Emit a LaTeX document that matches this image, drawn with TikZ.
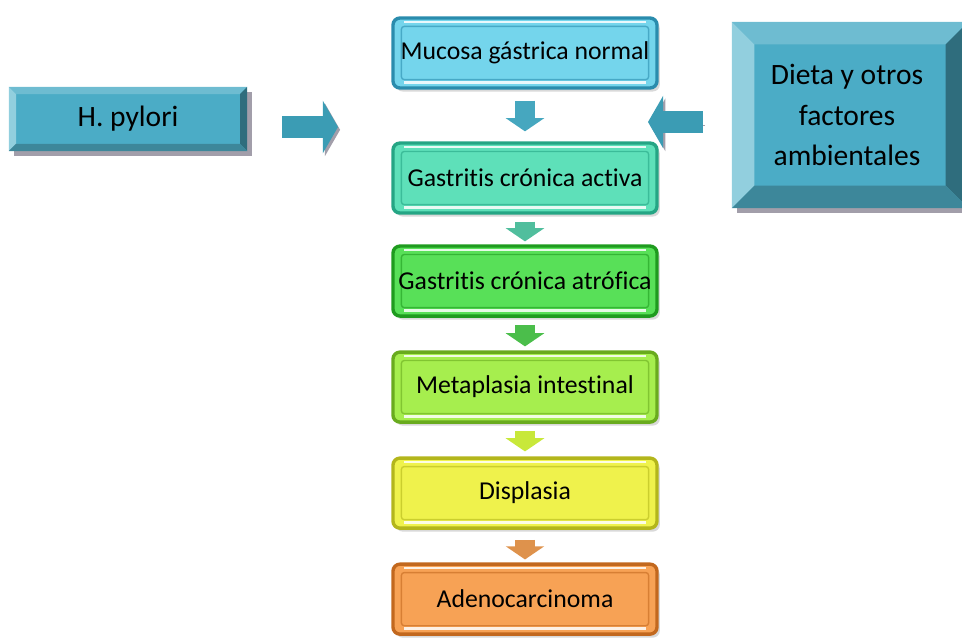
\documentclass[tikz,border=0pt]{standalone}
\usepackage{fontspec}
\setmainfont{Carlito}[Ligatures=NoCommon]
\usepackage{xcolor}
\usepackage{tikz}
\usetikzlibrary{arrows.meta, shadows}

\definecolor{aqua}{HTML}{4BACC6}
\definecolor{aquatop}{HTML}{6EBCD1}
\definecolor{aqualeft}{HTML}{92CFDE}
\definecolor{aquaright}{HTML}{2F6D7D}
\definecolor{aquabot}{HTML}{3D879A}
\definecolor{shadowgray}{HTML}{A29EAA}
\definecolor{arrowteal}{HTML}{3B9CB4}
\definecolor{cyanin}{HTML}{74D5EC}   \definecolor{cyanout}{HTML}{2A8CAD}
\definecolor{mintin}{HTML}{5EE0B9}   \definecolor{mintout}{HTML}{25A584}
\definecolor{greenin}{HTML}{58E058}  \definecolor{greenout}{HTML}{1F9B1F}
\definecolor{limein}{HTML}{A6EE4E}   \definecolor{limeout}{HTML}{69AB1E}
\definecolor{yellin}{HTML}{EFF24C}   \definecolor{yellout}{HTML}{B3B61B}
\definecolor{orangein}{HTML}{F7A255} \definecolor{orangeout}{HTML}{C2681E}
\definecolor{limearrow}{HTML}{C8E83A}

\tikzstyle{sidebox} = [fill=aqua, align=center, inner sep=0pt,
    font=\fontsize{21}{29}\selectfont,
    drop shadow={shadow xshift=3.5pt, shadow yshift=-3.5pt, fill=shadowgray, opacity=1},
    path picture={
      \path (path picture bounding box.south west) coordinate (bsw)
            (path picture bounding box.north east) coordinate (bne)
            (bsw|-bne) coordinate (bnw) (bne|-bsw) coordinate (bse);
      \fill[aquatop] (bnw) -- (bne) -- ([xshift=-\bevd,yshift=-\bevd]bne) -- ([xshift=\bevd,yshift=-\bevd]bnw) -- cycle;
      \fill[aqualeft] (bnw) -- (bsw) -- ([xshift=\bevd,yshift=\bevd]bsw) -- ([xshift=\bevd,yshift=-\bevd]bnw) -- cycle;
      \fill[aquaright] (bne) -- (bse) -- ([xshift=-\bevd,yshift=\bevd]bse) -- ([xshift=-\bevd,yshift=-\bevd]bne) -- cycle;
      \fill[aquabot] (bsw) -- (bse) -- ([xshift=-\bevd,yshift=\bevd]bse) -- ([xshift=\bevd,yshift=\bevd]bsw) -- cycle;
    }]
\tikzset{bevel depth/.store in=\bevd, bevel depth=5pt}
\tikzset{stage/.style 2 args={rounded corners=5pt, fill=#1, draw=#2, line width=2.4pt,
    minimum width=6.6cm, minimum height=1.75cm, inner sep=0pt,
    font=\fontsize{18.3}{22}\selectfont,
    drop shadow={shadow xshift=2pt, shadow yshift=-2.5pt, opacity=.3},
    path picture={
      \path (path picture bounding box.south west) coordinate (bsw)
            (path picture bounding box.north east) coordinate (bne)
            (bsw|-bne) coordinate (bnw) (bne|-bsw) coordinate (bse);
      \draw[#2, opacity=.6, line width=1pt, rounded corners=2pt]
        ([shift={(6pt,6pt)}]bsw) rectangle ([shift={(-6pt,-6pt)}]bne);
      \draw[white, opacity=.85, line width=1.6pt] ([shift={(8pt,-3pt)}]bnw) -- ([shift={(-8pt,-3pt)}]bne);
      \draw[white, opacity=.85, line width=1.6pt] ([shift={(8pt,4pt)}]bsw) -- ([shift={(-8pt,4pt)}]bse);
    }}}
\tikzstyle{downarrow} = [line width=14pt, -{Triangle[width=0.95cm,length=0.33cm]}]
\tikzstyle{sidearrow} = [line width=16pt, draw=arrowteal, -{Triangle[width=1.3cm,length=0.38cm]},
    preaction={draw=shadowgray, transform canvas={xshift=1.5pt,yshift=-2pt}}]

\begin{document}
\begin{tikzpicture}[x=0.025cm, y=-0.025cm, node distance=2.65cm]
    \useasboundingbox (0,0) rectangle (962,641);

    % stages
    \node (mucosa) [stage={cyanin}{cyanout}] at (525,53) {Mucosa gástrica normal};
    \node (activa) [stage={mintin}{mintout}, below of=mucosa, yshift=-0.475cm] {Gastritis crónica activa};
    \node (atrofica) [stage={greenin}{greenout}, below of=activa, yshift=0.075cm] {Gastritis crónica atrófica};
    \node (metaplasia) [stage={limein}{limeout}, below of=atrofica] {Metaplasia intestinal};
    \node (displasia) [stage={yellin}{yellout}, below of=metaplasia] {Displasia};
    \node (adeno) [stage={orangein}{orangeout}, below of=displasia] {Adenocarcinoma};

    % factors
    \node (hp) [sidebox, bevel depth=5pt, minimum width=5.95cm, minimum height=1.6cm] at (128,119) {H. pylori};
    \node (dieta) [sidebox, bevel depth=16pt, minimum width=5.9cm, minimum height=4.65cm] at (850,115)
        {\hspace*{-0.15cm}Dieta y otros\\\hspace*{-0.15cm}factores\\\hspace*{-0.15cm}ambientales};
    \coordinate (hptip) at (338,127);
    \coordinate (dietatip) at (648,122);

    % Edges
    \draw[downarrow, draw=arrowteal!80!cyanin, shorten <=0.275cm, shorten >=0.25cm] (mucosa) -- (activa);
    \draw[downarrow, draw=mintin!85!black, shorten <=0.175cm, shorten >=0.075cm] (activa) -- (atrofica);
    \draw[downarrow, draw=greenin!85!black, shorten <=0.175cm, shorten >=0.1cm] (atrofica) -- (metaplasia);
    \draw[downarrow, draw=limearrow, shorten <=0.175cm, shorten >=0.125cm] (metaplasia) -- (displasia);
    \draw[downarrow, draw=orangein!90!black, shorten <=0.25cm, shorten >=0.075cm] (displasia) -- (adeno);
    \draw[sidearrow, shorten <=0.875cm] (hp.east |- hptip) -- (hptip);
    \draw[sidearrow, shorten <=0.725cm] (dieta.west |- dietatip) -- (dietatip);
\end{tikzpicture}
\end{document}
